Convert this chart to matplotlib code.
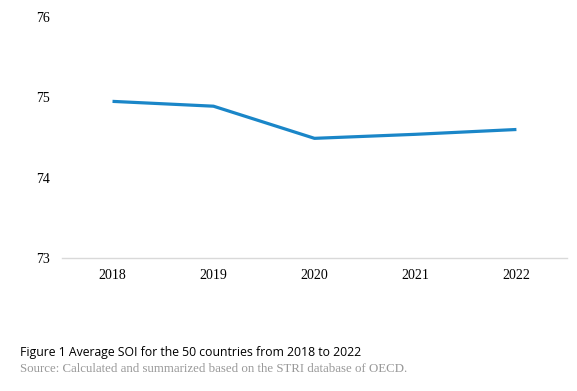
import matplotlib
matplotlib.use("Agg")
import matplotlib.pyplot as plt

plt.rcParams["font.family"] = "Liberation Serif"

years = ["2018", "2019", "2020", "2021", "2022"]
soi = [74.95, 74.89, 74.49, 74.54, 74.60]
y_ticks = [73, 74, 75, 76]

fig = plt.figure(figsize=(5.77, 3.91), dpi=100)
ax = fig.add_axes([0.1075, 0.340, 0.875, 0.6165])

x = range(len(years))
ax.plot(x, soi, color="#1a86c8", linewidth=2.3, solid_capstyle="butt")
ax.set_xlim(-0.5, len(years) - 0.5)
ax.set_ylim(73, 76)
ax.set_yticks(y_ticks)
ax.set_yticklabels([str(t) for t in y_ticks])
ax.set_xticks(list(x))
ax.set_xticklabels(years)

for side in ["top", "right", "left"]:
    ax.spines[side].set_visible(False)
ax.spines["bottom"].set_color("#d9d9d9")
ax.spines["bottom"].set_linewidth(1.0)
ax.tick_params(length=0, labelsize=10, pad=8)
ax.tick_params(axis="y", pad=9)

fig.text(0.035, 0.09, "Figure 1 Average SOI for the 50 countries from 2018 to 2022",
         fontsize=8.85, family="Open Sans", color="black", va="baseline")
fig.text(0.035, 0.048, "Source: Calculated and summarized based on the STRI database of OECD.",
         fontsize=9.3, family="Liberation Serif", color="#999999", va="baseline")

fig.savefig("out.png", dpi=100)
